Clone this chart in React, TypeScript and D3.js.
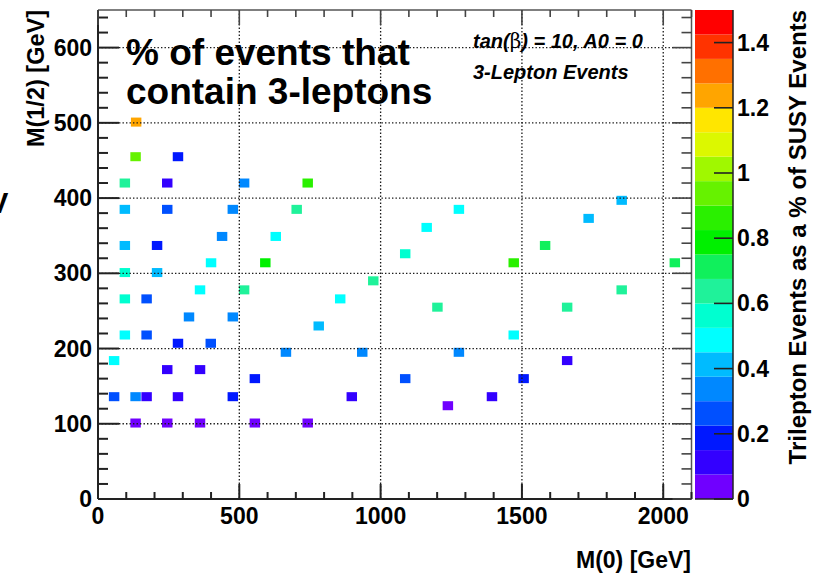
import React from 'react';
import * as d3 from 'd3';

// mSUGRA scan points: M(0), M(1/2) in GeV and trilepton fraction in % of SUSY events
const m0Values = [
  135, 133, 283, 95, 245, 517, 742, 1853, 95, 245, 477, 703, 1277, 1736, 1163, 439, 629,
  95, 209, 1582, 1087, 400, 592, 1471, 2041, 95, 209, 974, 361, 517, 1853, 95, 172, 857,
  1201, 1660, 322, 477, 781, 95, 172, 1471, 283, 399, 665, 935, 1277, 57, 1660, 245, 361,
  555, 1087, 1506, 57, 133, 172, 283, 477, 898, 1394, 1238, 133, 245, 361, 555, 742,
];
const mHalfValues = [
  501, 455, 455, 420, 420, 420, 420, 397, 385, 385, 385, 385, 385, 373, 361, 349, 349,
  337, 337, 337, 326, 314, 314, 314, 314, 301, 301, 290, 278, 278, 278, 266, 266, 266,
  255, 255, 242, 242, 230, 218, 218, 218, 207, 207, 195, 195, 195, 184, 184, 172, 172,
  160, 160, 160, 136, 136, 136, 136, 136, 136, 136, 124, 101, 101, 101, 101, 101,
];
const trileptonPct = [
  1.24, 0.94, 0.19, 0.64, 0.11, 0.34, 0.86, 0.41, 0.41, 0.26, 0.34, 0.64, 0.49, 0.41, 0.49, 0.34, 0.49,
  0.41, 0.19, 0.71, 0.56, 0.49, 0.79, 0.86, 0.71, 0.56, 0.41, 0.64, 0.49, 0.64, 0.64, 0.56, 0.26, 0.49,
  0.64, 0.64, 0.34, 0.34, 0.41, 0.49, 0.26, 0.49, 0.19, 0.26, 0.34, 0.34, 0.34, 0.49, 0.11, 0.11, 0.11,
  0.19, 0.26, 0.19, 0.26, 0.34, 0.11, 0.11, 0.19, 0.11, 0.11, 0.04, 0.04, 0.04, 0.04, 0.04, 0.04,
];

const xTickValues = [0, 500, 1000, 1500, 2000];
const xTickLabels = ['0', '500', '1000', '1500', '2000'];
const yTickValues = [0, 100, 200, 300, 400, 500, 600];
const yTickLabels = ['0', '100', '200', '300', '400', '500', '600'];
const zTickValues = [0, 0.2, 0.4, 0.6, 0.8, 1.0, 1.2, 1.4];
const zTickLabels = ['0', '0.2', '0.4', '0.6', '0.8', '1', '1.2', '1.4'];

// 20-step rainbow palette, low to high
const palette = [
  '#7000ff', '#3300ff', '#0018ff', '#0050ff', '#0088ff', '#00bbff', '#00ffff', '#00ffd0',
  '#1ff29a', '#10f05c', '#00f000', '#2af000', '#66f200', '#a0f800', '#dcf800', '#ffe600',
  '#ffa500', '#ff7000', '#ff3300', '#ff0000',
];

const FONT = '"Liberation Sans", Arial, Helvetica, sans-serif';

export default function App() {
  const left = 98;
  const right = 691.5;
  const top = 10;
  const bottom = 499;

  const x = d3.scaleLinear().domain([0, 2100]).range([left, right]);
  const y = d3.scaleLinear().domain([0, 650]).range([bottom, top]);
  const z = d3.scaleLinear().domain([0, 1.5]).range([bottom, top]);
  const color = d3.scaleQuantize<string>().domain([0, 1.5]).range(palette);

  const binW = 37;
  const binH = 12;

  const xMinor = d3.range(0, 2101, 100);
  const yMinor = d3.range(0, 651, 20);

  const barX0 = 695;
  const barX1 = 733;
  const bandStep = 1.5 / palette.length;

  const cells = m0Values.map((m0, i) => ({ m0, mh: mHalfValues[i], v: trileptonPct[i] }));

  return (
    <svg
      width={821}
      height={574}
      style={{ position: 'absolute', left: 0, top: 0, background: '#fff' }}
      fontFamily={FONT}
    >
      <rect x={0} y={0} width={821} height={574} fill="#fff" />

      {/* cells */}
      {cells.map((c, i) => (
        <rect
          key={i}
          x={x(c.m0 - binW / 2)}
          y={y(c.mh + binH / 2)}
          width={x(binW) - x(0)}
          height={y(0) - y(binH)}
          fill={color(c.v)}
        />
      ))}

      {/* dotted grid */}
      <g stroke="#1a1a1a" strokeWidth={1.3} strokeDasharray="1.4 2.1">
        {xTickValues.slice(1).map((v) => (
          <line key={'gx' + v} x1={x(v)} x2={x(v)} y1={top} y2={bottom} />
        ))}
        {yTickValues.slice(1).map((v) => (
          <line key={'gy' + v} x1={left} x2={right} y1={y(v)} y2={y(v)} />
        ))}
      </g>

      {/* frame */}
      <line x1={left} x2={right} y1={top} y2={top} stroke="#555" strokeWidth={1.5} />
      <line x1={right} x2={right} y1={top} y2={bottom} stroke="#555" strokeWidth={1.5} />
      <line x1={left} x2={left} y1={top} y2={bottom} stroke="#222" strokeWidth={2} />
      <line x1={left} x2={right} y1={bottom} y2={bottom} stroke="#222" strokeWidth={2} />

      {/* ticks */}
      <g stroke="#222" strokeWidth={2}>
        {yMinor.map((v) => {
          const len = v % 100 === 0 ? 21 : 10;
          return <line key={'yl' + v} x1={left} x2={left + len} y1={y(v)} y2={y(v)} />;
        })}
        {xMinor.map((v) => {
          const len = v % 500 === 0 ? 15 : 7;
          return <line key={'xb' + v} x1={x(v)} x2={x(v)} y1={bottom} y2={bottom - len} />;
        })}
      </g>
      <g stroke="#444" strokeWidth={1.6}>
        {yMinor.map((v) => {
          const len = v % 100 === 0 ? 19 : 10;
          return <line key={'yr' + v} x1={right} x2={right - len} y1={y(v)} y2={y(v)} />;
        })}
        {xMinor.map((v) => {
          const len = v % 500 === 0 ? 15 : 7;
          return <line key={'xt' + v} x1={x(v)} x2={x(v)} y1={top} y2={top + len} />;
        })}
      </g>

      {/* tick labels */}
      <g fontSize={23} fontWeight="bold" fill="#000">
        {yTickValues.map((v, i) => (
          <text key={'ylab' + v} x={92} y={y(v) + 8} textAnchor="end">
            {yTickLabels[i]}
          </text>
        ))}
        {xTickValues.map((v, i) => (
          <text key={'xlab' + v} x={x(v)} y={523.5} textAnchor="middle">
            {xTickLabels[i]}
          </text>
        ))}
      </g>

      {/* axis titles */}
      <text
        transform="translate(43.5,10) rotate(-90)"
        textAnchor="end"
        fontSize={23.5}
        fontWeight="bold"
      >
        M(1/2) [GeV]
      </text>
      <text x={691} y={568} textAnchor="end" fontSize={23} fontWeight="bold">
        M(0) [GeV]
      </text>

      {/* colour scale */}
      {palette.map((c, i) => (
        <rect
          key={'band' + i}
          x={barX0}
          y={z((i + 1) * bandStep)}
          width={barX1 - barX0}
          height={z(i * bandStep) - z((i + 1) * bandStep)}
          fill={c}
        />
      ))}
      <line x1={barX1} x2={barX1} y1={top} y2={bottom} stroke="#222" strokeWidth={1.5} />
      <line x1={barX0} x2={barX1} y1={bottom} y2={bottom} stroke="#222" strokeWidth={1.5} />
      <g stroke="#222" strokeWidth={1.6}>
        {zTickValues.map((v) => (
          <line key={'zt' + v} x1={barX1} x2={barX1 - 19} y1={z(v)} y2={z(v)} />
        ))}
      </g>
      <g fontSize={23} fontWeight="bold">
        {zTickValues.map((v, i) => (
          <text key={'zl' + v} x={737} y={z(v) + 8}>
            {zTickLabels[i]}
          </text>
        ))}
      </g>
      <text
        transform="translate(805.5,10) rotate(-90)"
        textAnchor="end"
        fontSize={24}
        fontWeight="bold"
      >
        Trilepton Events as a % of SUSY Events
      </text>

      {/* title */}
      <g fontSize={37} fontWeight="bold">
        <text x={126} y={65}>% of events that</text>
        <text x={126} y={104}>contain 3-leptons</text>
      </g>

      {/* scan parameters */}
      <g fontSize={20} fontWeight="bold" fontStyle="italic">
        <text x={473} y={48}>
          tan(
          <tspan fontFamily='"DejaVu Serif", "Liberation Serif", serif' fontWeight="normal" fontStyle="normal">
            β
          </tspan>
          ) = 10, A0 = 0
        </text>
        <text x={473} y={78.5}>3-Lepton Events</text>
      </g>

      {/* clipped label fragment at the left edge */}
      <text x={-11} y={213} fontSize={29} fontWeight="bold">
        V
      </text>
    </svg>
  );
}
